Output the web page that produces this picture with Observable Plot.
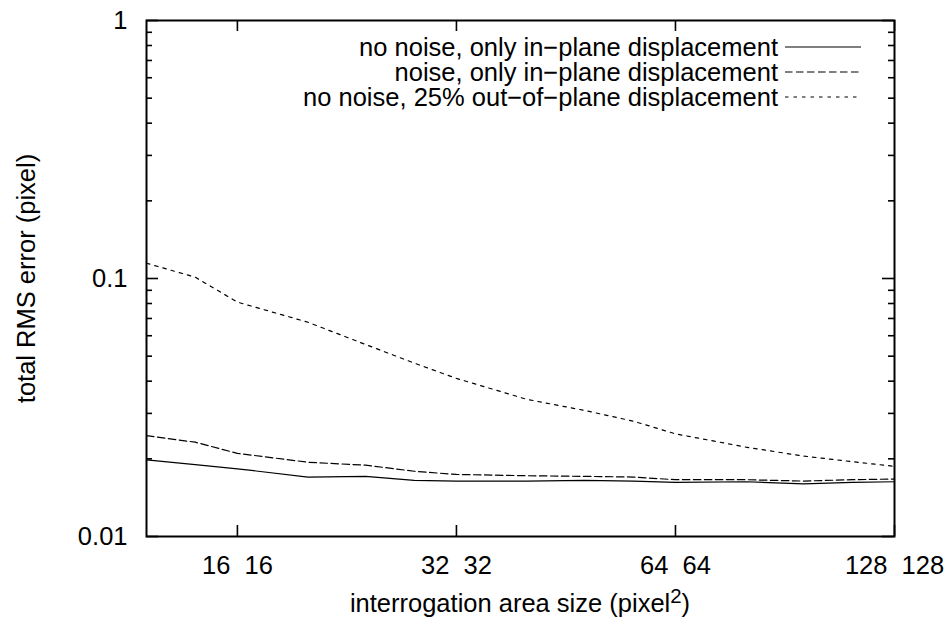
<!DOCTYPE html>
<html>
<head>
<meta charset="utf-8">
<script src="https://cdn.jsdelivr.net/npm/d3@7"></script>
<script src="https://cdn.jsdelivr.net/npm/@observablehq/plot@0.6"></script>
<style>
html, body { margin: 0; padding: 0; background: #fff; }
#chart svg { display: block; }
#chart svg text { white-space: pre; }
</style>
</head>
<body>
<div id="chart"></div>
<script>
// ---- data ----
const sizes = [12, 14, 16, 20, 24, 28, 32, 40, 48, 56, 64, 80, 96, 112, 128];
const noNoiseInPlane    = [0.0198, 0.0190, 0.0183, 0.0170, 0.0171, 0.0165, 0.0164, 0.0164, 0.0165, 0.0164, 0.0162, 0.0163, 0.0160, 0.0162, 0.0163];
const noiseInPlane      = [0.0246, 0.0232, 0.0210, 0.0194, 0.0189, 0.0179, 0.0174, 0.0172, 0.0171, 0.0170, 0.0166, 0.0166, 0.0164, 0.0166, 0.0167];
const noNoiseOutOfPlane = [0.1146, 0.1012, 0.0810, 0.0677, 0.0555, 0.0470, 0.0410, 0.0340, 0.0308, 0.0280, 0.0250, 0.0222, 0.0205, 0.0195, 0.0187];
const seriesNames = [
  "no noise, only in−plane displacement",
  "noise, only in−plane displacement",
  "no noise, 25% out−of−plane displacement"
];
const xTickValues = [16, 32, 64, 128];
const xTickLabels = ["16  16", "32  32", "64  64", "128  128"];
const yTickValues = [0.01, 0.1, 1];
const yTickLabels = ["0.01", "0.1", "1"];
const yMinorTicks = [0.02, 0.03, 0.04, 0.05, 0.06, 0.07, 0.08, 0.09, 0.2, 0.3, 0.4, 0.5, 0.6, 0.7, 0.8, 0.9];
const xLabelMain = "interrogation area size (pixel";
const xLabelSup = "2";
const xLabelEnd = ")";
const yLabel = "total RMS error (pixel)";

// ---- layout / style ----
const W = 947, H = 621;
const mL = 146, mR = 53, mT = 20, mB = 85;
const innerW = W - mL - mR, innerH = H - mT - mB;
const dashes = [null, "7.5,3.5", "3.5,5"];
const fontSize = 25.5;

const seriesValues = [noNoiseInPlane, noiseInPlane, noNoiseOutOfPlane];
const rows = [];
seriesNames.forEach((name, s) => sizes.forEach((sz, i) => rows.push({series: name, size: sz, rms: seriesValues[s][i]})));

// legend and x-axis title (with a gnuplot-like raised exponent)
function annotations(index, scales, values, dimensions) {
  const left = dimensions.marginLeft;
  const right = dimensions.width - dimensions.marginRight;
  const bottom = dimensions.height - dimensions.marginBottom;
  const g = d3.create("svg:g").attr("fill", "black");
  seriesNames.forEach((name, i) => {
    const y = dimensions.marginTop + 27 + i * 25;
    g.append("text")
      .attr("x", right - 116).attr("y", y).attr("dy", "0.35em")
      .attr("text-anchor", "end").text(name);
    const ln = g.append("line")
      .attr("x1", right - 109).attr("x2", right - 33)
      .attr("y1", y).attr("y2", y)
      .attr("stroke", "black").attr("stroke-width", 1.2);
    if (dashes[i]) ln.attr("stroke-dasharray", dashes[i]);
  });
  const t = g.append("text")
    .attr("x", (left + right) / 2).attr("y", bottom + 76)
    .attr("text-anchor", "middle");
  t.append("tspan").text(xLabelMain);
  t.append("tspan").attr("dy", "-0.42em").attr("font-size", "0.8em").text(xLabelSup);
  t.append("tspan").attr("dy", "0.336em").text(xLabelEnd);
  return g.node();
}

const chart = Plot.plot({
  width: W, height: H,
  marginLeft: mL, marginRight: mR, marginTop: mT, marginBottom: mB,
  style: {fontFamily: "'Liberation Sans', Arial, Helvetica, sans-serif", fontSize: fontSize + "px", color: "black", background: "white"},
  x: {type: "log", domain: [12, 128]},
  y: {type: "log", domain: [0.01, 1]},
  marks: [
    ...seriesNames.map((name, s) => Plot.line(rows.filter(r => r.series === name), {
      x: "size", y: "rms", stroke: "black", strokeWidth: 1.2,
      strokeDasharray: dashes[s] || undefined
    })),
    // inward ticks (gnuplot style)
    Plot.tickX(xTickValues, {x: d => d, insetTop: innerH - 11, stroke: "black", strokeWidth: 1.6}),
    Plot.tickX(xTickValues, {x: d => d, insetBottom: innerH - 11, stroke: "black", strokeWidth: 1.6}),
    Plot.tickY(yTickValues, {y: d => d, insetRight: innerW - 12, stroke: "black", strokeWidth: 1.6}),
    Plot.tickY(yTickValues, {y: d => d, insetLeft: innerW - 12, stroke: "black", strokeWidth: 1.6}),
    Plot.tickY(yMinorTicks, {y: d => d, insetRight: innerW - 6, stroke: "black", strokeWidth: 1.6}),
    Plot.tickY(yMinorTicks, {y: d => d, insetLeft: innerW - 6, stroke: "black", strokeWidth: 1.6}),
    Plot.axisX({ticks: xTickValues, tickSize: 0, tickPadding: 19, label: null,
      tickFormat: d => xTickLabels[xTickValues.indexOf(d)]}),
    Plot.axisY({ticks: yTickValues, tickSize: 0, tickPadding: 19, label: null,
      tickFormat: d => yTickLabels[yTickValues.indexOf(d)]}),
    Plot.text([yLabel], {frameAnchor: "left", dx: -120, rotate: -90, text: d => d, textAnchor: "middle", lineAnchor: "middle", fill: "black"}),
    Plot.frame({stroke: "black", strokeWidth: 2}),
    annotations
  ]
});
document.getElementById("chart").appendChild(chart);
</script>
</body>
</html>
